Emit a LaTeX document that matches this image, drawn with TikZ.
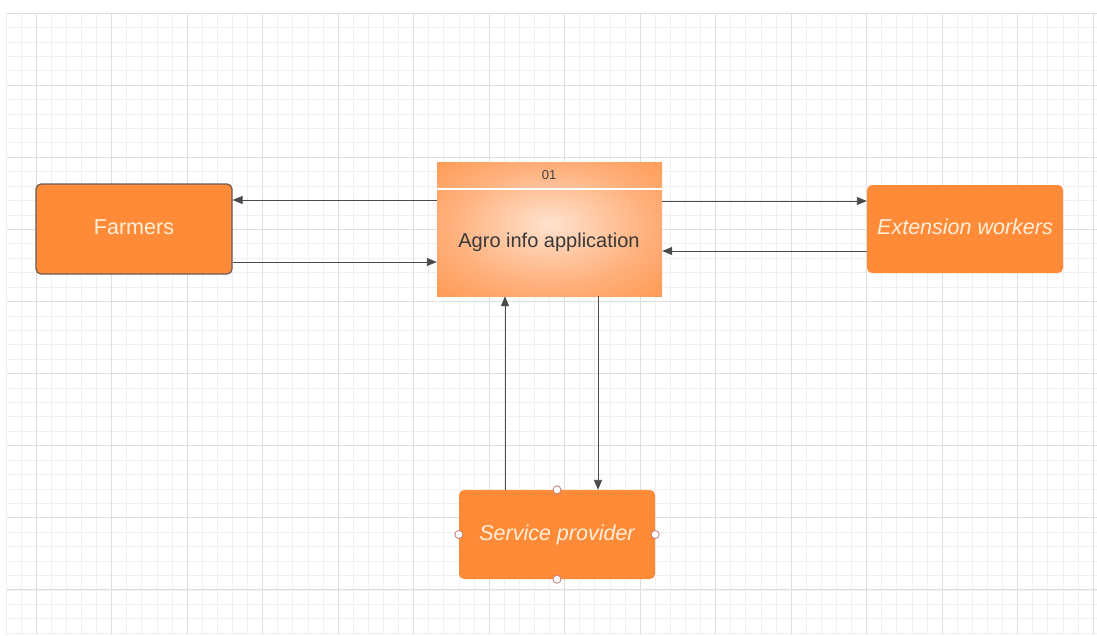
\documentclass[tikz,border=0pt]{standalone}
\usepackage{fontspec}
\setmainfont{Liberation Sans}
\usetikzlibrary{arrows.meta,shapes.geometric}
\definecolor{boxorange}{HTML}{FF8B38}
\definecolor{boxtext}{HTML}{FFF0DC}
\definecolor{framegray}{HTML}{6A5A52}
\definecolor{linegray}{HTML}{4A4A4A}
\definecolor{gridminor}{HTML}{F0F0F0}
\definecolor{gridmajor}{HTML}{DEDEDE}
\definecolor{handlered}{HTML}{C27A7A}
\definecolor{glowcore}{HTML}{FFE2CE}
\definecolor{glowmid}{HTML}{FFB07C}
\pgfdeclareradialshading{appglow}{\pgfpoint{0bp}{2bp}}{color(0bp)=(glowcore); color(22bp)=(glowmid); color(46bp)=(boxorange); color(50bp)=(boxorange)}

\begin{document}
\begin{tikzpicture}[x=1pt,y=-1pt]
			\tikzset{entity/.style={rectangle,rounded corners=5pt,fill=boxorange,text=boxtext,
					minimum width=196pt,minimum height=89pt,inner sep=0pt,font=\fontsize{21.5}{25}\selectfont}}
			\tikzset{process/.style={rectangle,inner sep=0pt,minimum width=225pt,minimum height=134pt,
					shading=appglow}}
			\tikzset{flow/.style={draw=linegray,line width=0.9pt,-{Triangle[length=10pt,width=8pt]}}}
			\tikzset{handle/.style={circle,draw=handlered,fill=white,line width=0.8pt,minimum size=8pt,inner sep=0pt}}
			\useasboundingbox (0,0) rectangle (1097,635);
			\fill[white] (0,0) rectangle (1097,635);
			% grid
			\foreach \k in {0,...,72} {\draw[gridminor,line width=0.6pt] ({5.8+15.1*\k},13) -- ++(0,622);}
			\foreach \k in {0,...,43} {\draw[gridminor,line width=0.6pt] (7,{13+14.42*\k}) -- ++(1090,0);}
			\foreach \k in {0,...,14} {\draw[gridmajor,line width=0.7pt] ({36+75.5*\k},13) -- ++(0,622);}
			\foreach \k in {0,...,8} {\draw[gridmajor,line width=0.7pt] (7,{13+72.1*\k}) -- ++(1090,0);}
			% entities
			\node[entity,draw=framegray,line width=1.2pt,minimum height=90pt] (farmers) at (134,229) {\raisebox{4pt}{Farmers}};
			\node[entity,font=\fontsize{21.5}{25}\selectfont\itshape,minimum height=88pt] (ext) at (965,229) {\raisebox{4pt}{Extension workers}};
			\node[entity,font=\fontsize{21.5}{25}\selectfont\itshape] (sp) at (557,534.5) {Service provider};
			% process
			\node[process] (app) at (549.5,229) {};
			\draw[white,line width=1.3pt] (app.west |- 0,189) -- (app.east |- 0,189);
			\node[text=black!75,font=\fontsize{13}{15}\selectfont] (appnum) at (549,175) {01};
			\node[text=black!78,font=\fontsize{20}{24}\selectfont] (appname) at (549,242) {Agro info application};
			% flows
			\draw[flow] (app.west |- 0,200) -- (farmers.east |- 0,200);
			\draw[flow] (farmers.east |- 0,262) -- (app.west |- 0,262);
			\draw[flow] (app.east |- 0,201) -- (ext.west |- 0,201);
			\draw[flow] (ext.west |- 0,251) -- (app.east |- 0,251);
			\draw[flow] (sp.north -| 505,0) -- (app.south -| 505,0);
			\draw[flow] (app.south -| 598,0) -- (sp.north -| 598,0);
			% selection handles
			\foreach \a in {north,south,east,west} {\node[handle] (h\a) at (sp.\a) {};}
		\end{tikzpicture}
\end{document}
